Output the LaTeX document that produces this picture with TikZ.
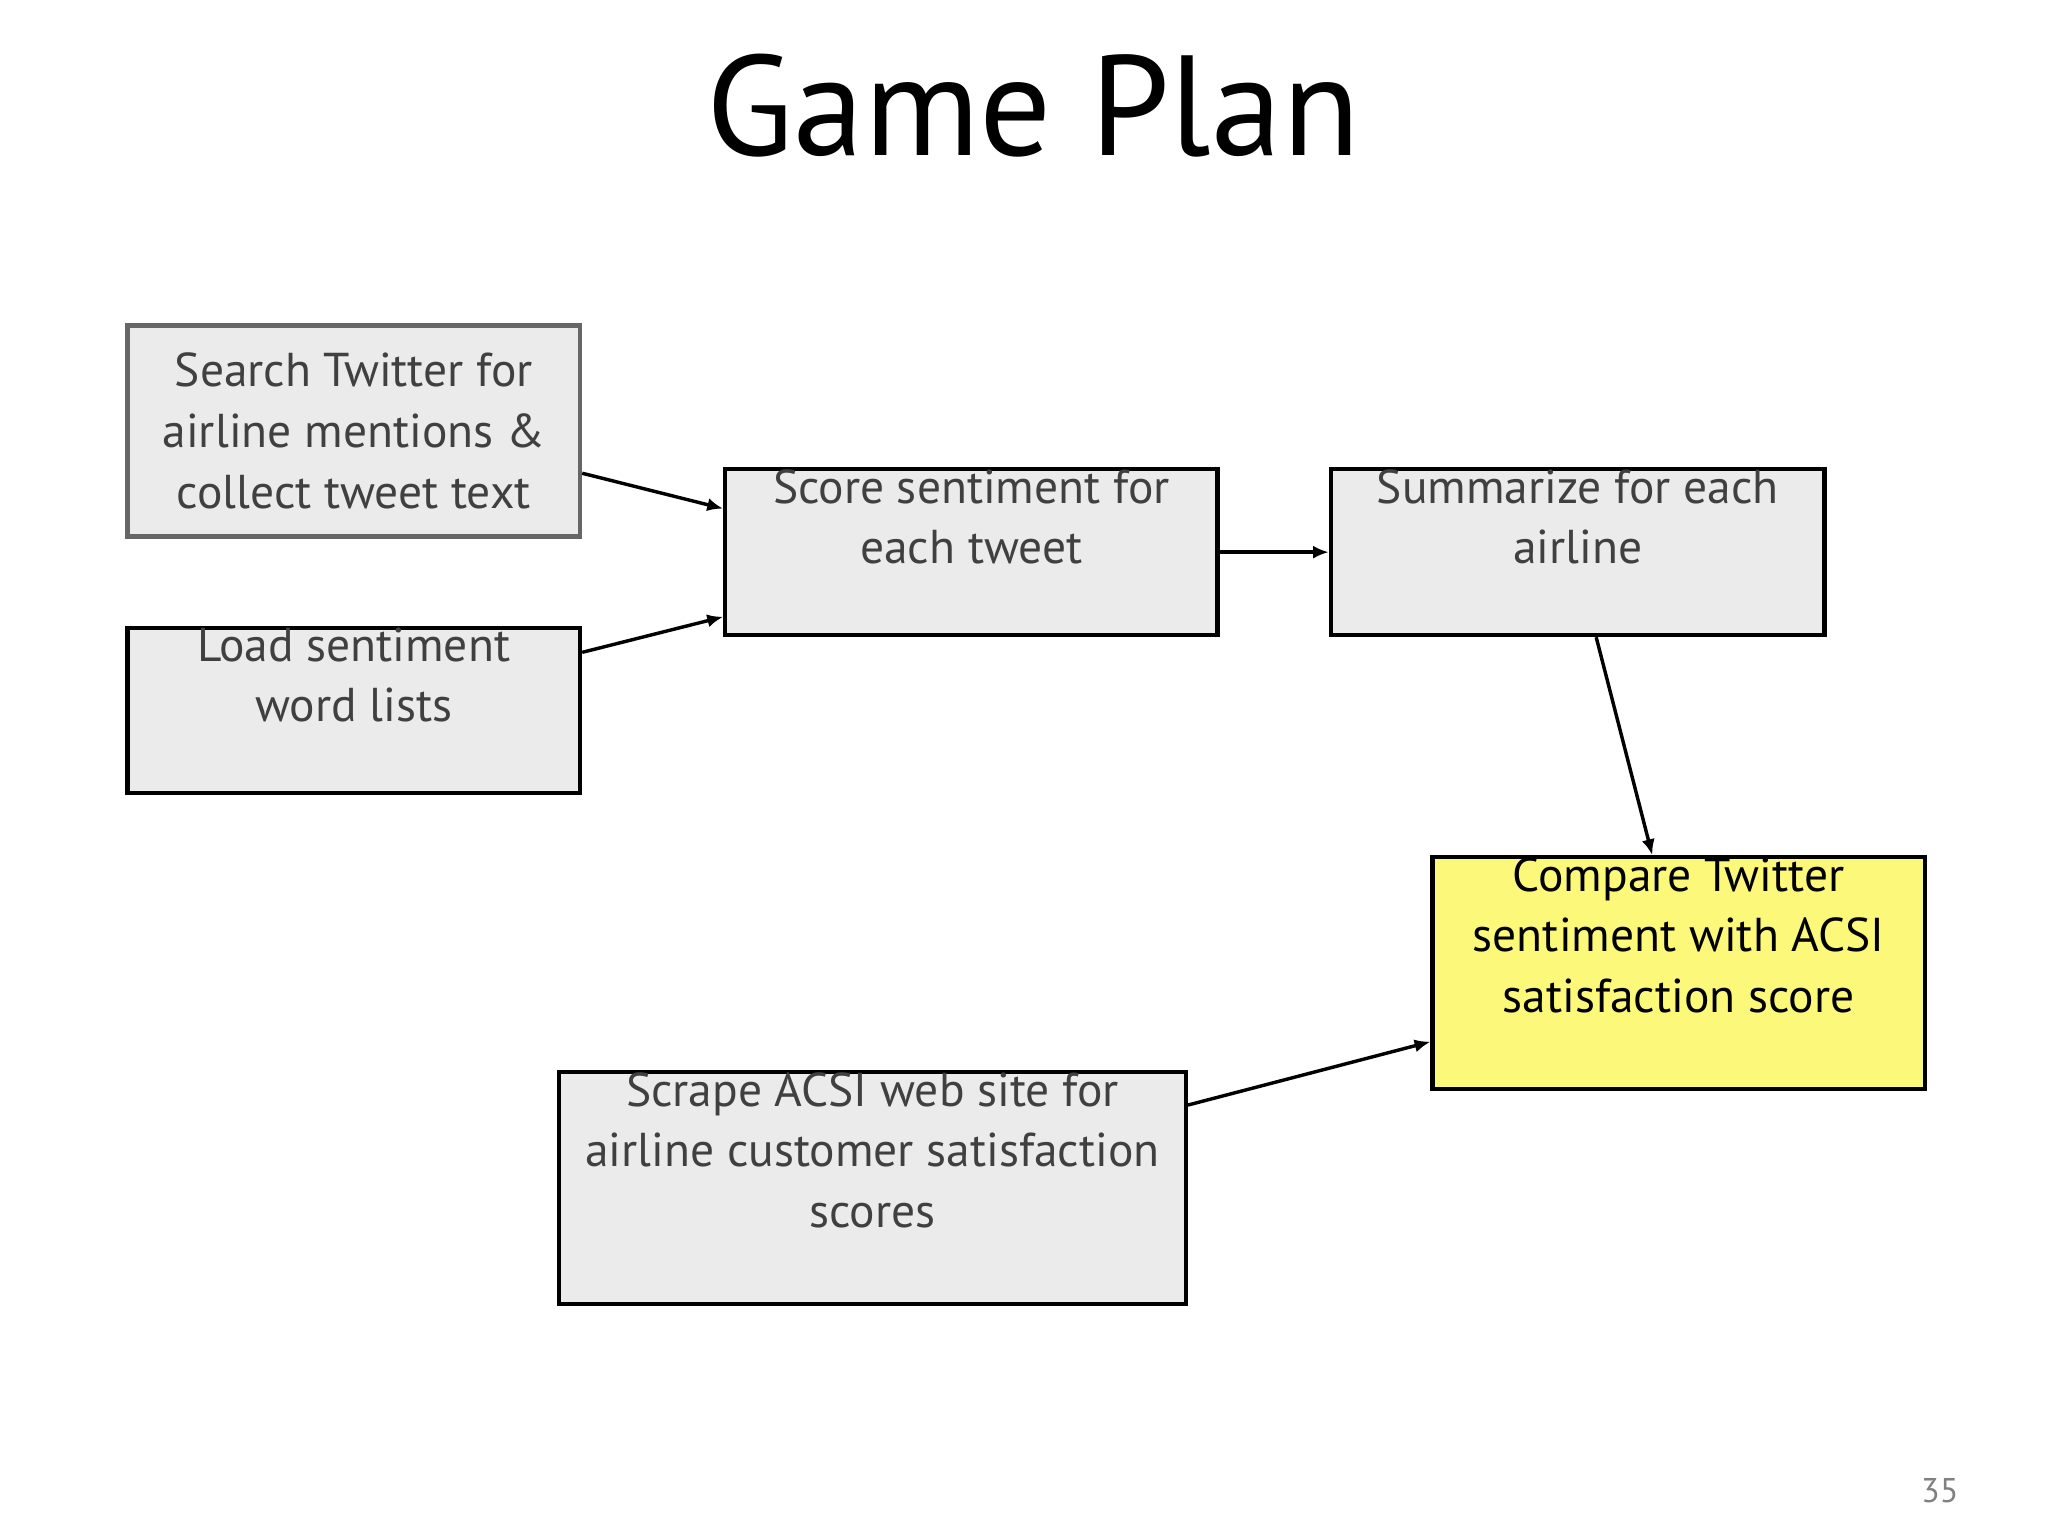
\documentclass[tikz,border=0pt]{standalone}
\usepackage{fontspec}
\setmainfont{PT Sans}
\usetikzlibrary{arrows.meta}
\definecolor{boxfill}{HTML}{EBEBEB}
\definecolor{yel}{HTML}{FBF87A}
\begin{document}
\begin{tikzpicture}[x=0.5pt,y=-0.5pt,
  box/.style={draw=black,line width=1.6pt,fill=boxfill,inner sep=0pt,align=center,font=\fontsize{18}{23}\selectfont,text=black!75},
  arr/.style={-{Latex[length=6pt,width=5pt]},line width=1.3pt}]
\useasboundingbox (0,0) rectangle (1552,1164);
\node[font=\fontsize{54}{60}\selectfont] (t) at (783,80) {Game Plan};
\node[box,draw=black!60,minimum width=171.5pt,minimum height=80pt,anchor=north west] (A) at (95,245) {Search Twitter for\\airline mentions \&\\collect tweet text};
\node[box,minimum width=171.5pt,minimum height=57pt,anchor=north west] (B) at (95,474) {Load sentiment\\word lists\\[4pt]};
\node[box,minimum width=186.5pt,minimum height=57pt,anchor=north west] (C) at (548,354) {Score sentiment for\\each tweet\\[4pt]};
\node[box,minimum width=187pt,minimum height=57pt,anchor=north west] (D) at (1007,354) {Summarize for each\\airline\\[4pt]};
\node[box,fill=yel,text=black,minimum width=186.5pt,minimum height=79.5pt,anchor=north west] (E) at (1084,648) {Compare Twitter\\sentiment with ACSI\\satisfaction score\\[6pt]};
\node[box,minimum width=237.5pt,minimum height=79.5pt,anchor=north west] (F) at (422,811) {Scrape ACSI web site for\\airline customer satisfaction\\scores\\[6pt]};
\node[font=\fontsize{13}{15}\selectfont,text=black!50] (n) at (1470,1130) {35};
\draw[arr] ([yshift=-16pt]A.east) -- ([yshift=16.5pt]C.west);
\draw[arr] ([yshift=22pt]B.east) -- ([yshift=-24.5pt]C.west);
\draw[arr] (C.east) -- (D.west);
\draw[arr] ([xshift=7pt]D.south) -- ([xshift=-10pt]E.north);
\draw[arr] ([yshift=31.5pt]F.east) -- ([yshift=-26pt]E.west);
\end{tikzpicture}
\end{document}
